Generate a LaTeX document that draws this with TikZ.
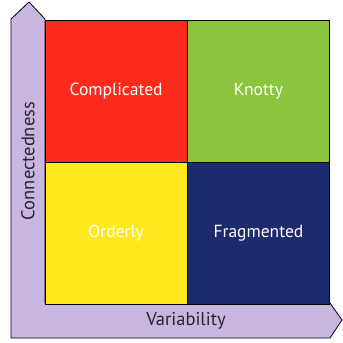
\documentclass[tikz,border=0pt]{standalone}
\usepackage{fontspec}
\setmainfont{PT Sans}
\usetikzlibrary{positioning}
\definecolor{axispurple}{RGB}{200,182,224}
\definecolor{quadred}{RGB}{255,42,30}
\definecolor{quadgreen}{RGB}{140,196,62}
\definecolor{quadyellow}{RGB}{255,232,28}
\definecolor{quadnavy}{RGB}{30,42,110}
\definecolor{axistext}{RGB}{40,36,50}

\begin{document}
\begin{tikzpicture}[x=1pt,y=-1pt,
  quad/.style={draw=black, line width=0.8pt, minimum width=141.5pt, minimum height=141.5pt,
    inner sep=0pt, text=white, font=\fontsize{17.5}{20}\selectfont},
  axislabel/.style={text=axistext, font=\fontsize{18.5}{21}\selectfont}]
\useasboundingbox (0,0) rectangle (343,343);
% L-shaped axis band with arrow heads
\draw[fill=axispurple, line width=0.8pt, line join=round]
  (11,19) -- (29,2) -- (45,19) -- (45,303) -- (330,303) -- (342,320) -- (330,338) -- (11,338) -- cycle;
% Quadrants
\node[quad, fill=quadred, anchor=north west] (compl) at (45,20) {Complicated};
\node[quad, fill=quadgreen, right=0pt of compl] (knotty) {Knotty};
\node[quad, fill=quadyellow, below=0pt of compl] (orderly) {Orderly};
\node[quad, fill=quadnavy, right=0pt of orderly] (frag) {Fragmented};
% Axis labels
\node[axislabel, rotate=90] (conn) at (28,161) {Connectedness};
\node[axislabel] (var) at (186,321) {Variability};
\end{tikzpicture}
\end{document}
